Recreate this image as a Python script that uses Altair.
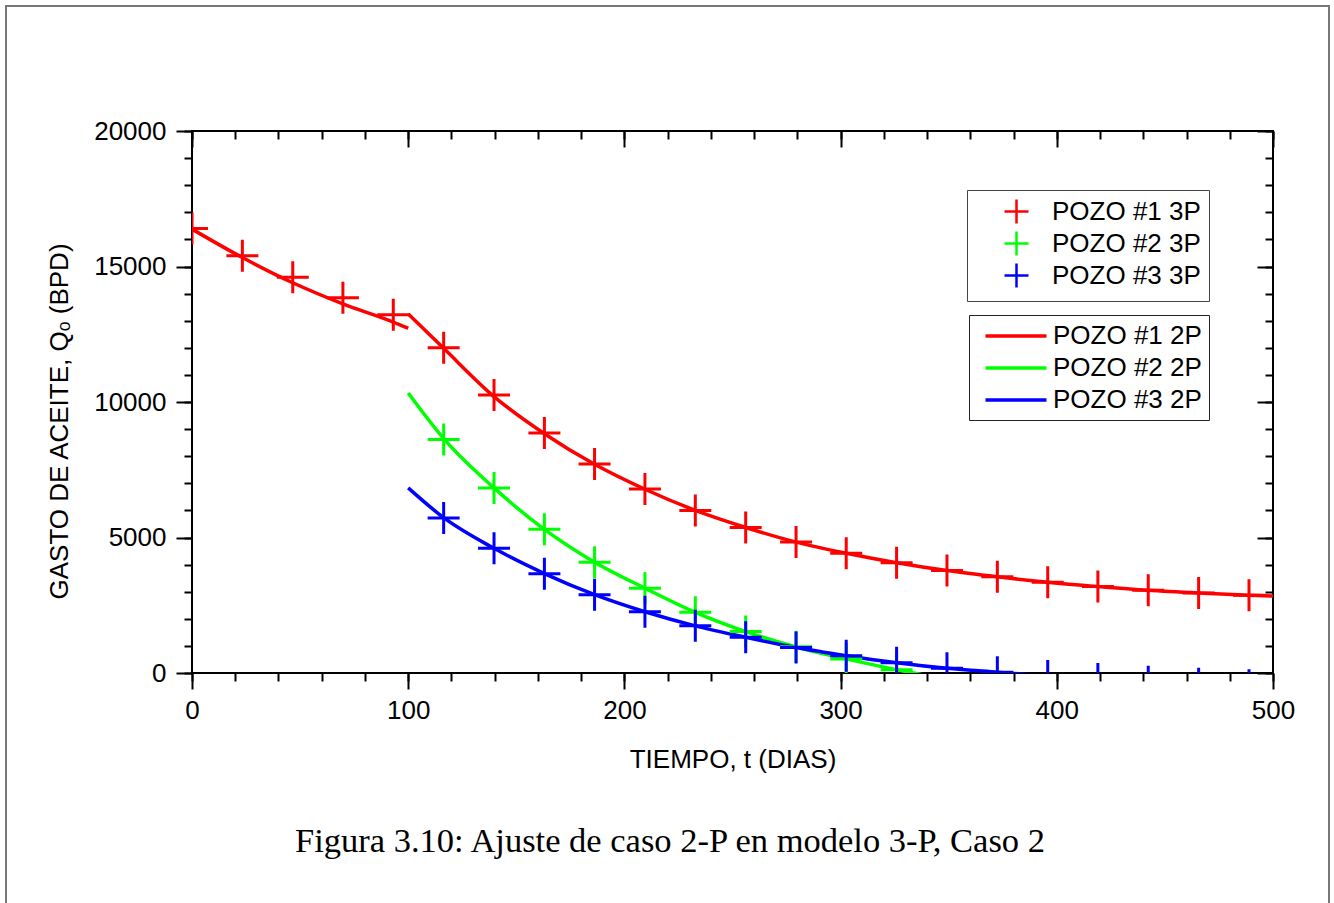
import altair as alt
import pandas as pd

# ---------------- data ----------------
t_pts = [0, 23.3, 46.6, 69.8, 93.1, 116.4, 139.7, 163.0, 186.2, 209.5, 232.8,
         256.1, 279.4, 302.6, 325.9, 349.2, 372.5, 395.8, 419.0, 442.3, 465.6, 488.9]

# 3P model (crosses)
q1_3p = [16400, 15400, 14600, 13850, 13220, 12000, 10260, 8860, 7710, 6790, 6000,
         5370, 4830, 4420, 4070, 3780, 3550, 3350, 3190, 3050, 2950, 2870]
t2_3p = t_pts[5:15]
q2_3p = [8620, 6830, 5300, 4090, 3130, 2240, 1530, 970, 520, 120]
t3_3p = t_pts[5:]
q3_3p = [5720, 4600, 3660, 2890, 2260, 1740, 1320, 940, 640, 380, 175, 30,
         -110, -220, -320, -395, -455]

# 2P model (lines)
t1a = [0, 23.3, 46.6, 69.8, 93.1, 100]
q1a = [16380, 15330, 14400, 13620, 12950, 12720]
t1b = [100] + t_pts[5:] + [500]
q1b = [13250, 11980, 10200, 8830, 7700, 6780, 6000, 5370, 4830, 4420, 4070,
       3780, 3550, 3350, 3190, 3050, 2950, 2870, 2840]
t2 = [100] + t_pts[5:16]
q2 = [10330, 8650, 6830, 5300, 4090, 3130, 2240, 1530, 960, 520, 120, -230]
t3 = [100] + t_pts[5:]
q3 = [6830, 5730, 4600, 3670, 2890, 2260, 1740, 1320, 940, 640, 380, 175, 30,
      -110, -220, -320, -395, -455]

names3p = ["POZO #1 3P", "POZO #2 3P", "POZO #3 3P"]
names2p = ["POZO #1 2P", "POZO #2 2P", "POZO #3 2P"]
colors = ["#ff0000", "#00ff00", "#0000ff"]

x_major = list(range(0, 501, 100))
x_minor = list(range(0, 501, 20))
y_major = list(range(0, 20001, 5000))
y_minor = list(range(0, 20001, 1000))

caption = ["Figura 3.10: Ajuste de caso 2-P en modelo 3-P, Caso 2"]

# ---------------- tables ----------------
pts_rows = []
for name, ts, qs in zip(names3p, [t_pts, t2_3p, t3_3p], [q1_3p, q2_3p, q3_3p]):
    for t, q in zip(ts, qs):
        pts_rows.append({"t": t, "q": q, "serie": name})
df_pts = pd.DataFrame(pts_rows)

line_rows = []
for name, seg, ts, qs in [(names2p[0], "a", t1a, q1a), (names2p[0], "b", t1b, q1b),
                          (names2p[1], "c", t2, q2), (names2p[2], "d", t3, q3)]:
    for t, q in zip(ts, qs):
        line_rows.append({"t": t, "q": q, "serie": name, "seg": seg})
df_lines = pd.DataFrame(line_rows)

# ---------------- chart ----------------
W, H = 1081, 542
FONT = "Liberation Sans"
xs = alt.Scale(domain=[0, 500], nice=False, zero=False)
ys = alt.Scale(domain=[0, 20000], nice=False)

common = dict(domain=False, grid=False, tickColor="black", tickWidth=2, labelFlush=False,
              labelFont=FONT, labelFontSize=26, labelColor="black", format="d")

CROSS = "M-1,0H1M0,-1V1"
HLINE = "M-2.5,0H2.5"

lines = alt.Chart(df_lines).mark_line(strokeWidth=3.5, interpolate="monotone", clip=True).encode(
    x=alt.X("t:Q", scale=xs, axis=alt.Axis(
        orient="bottom", values=x_major, tickSize=16, labelPadding=8,
        title="TIEMPO, t (DIAS)", titleFont=FONT, titleFontSize=26, titleFontWeight="normal",
        titleColor="black", titlePadding=23, **common)),
    y=alt.Y("q:Q", scale=ys, axis=alt.Axis(
        orient="left", values=y_major, tickSize=16, labelPadding=10,
        title="GASTO DE ACEITE, Qₒ (BPD)", titleFont=FONT, titleFontSize=26,
        titleFontWeight="normal", titleColor="black", titleAngle=270,
        titleAlign="center", titleBaseline="alphabetic", titleX=-125, titleY=290,
        **common)),
    stroke=alt.Stroke("serie:N", scale=alt.Scale(domain=names2p, range=colors),
                      legend=alt.Legend(
                          orient="none", legendX=777, legendY=184, title=None,
                          symbolType=HLINE, symbolSize=595, symbolStrokeWidth=3.5,
                          symbolOffset=26, labelOffset=23, labelFont=FONT, labelFontSize=26,
                          labelColor="black", labelLimit=400, rowPadding=5, padding=7,
                          strokeColor="#222")),
    detail="seg:N",
)

points = alt.Chart(df_pts).mark_point(shape=CROSS, size=1024, filled=False, strokeWidth=3,
                                      opacity=1, clip=True).encode(
    x=alt.X("t:Q", scale=xs, axis=alt.Axis(orient="bottom", values=x_minor, tickSize=8,
                                           labels=False, title=None, **common)),
    y=alt.Y("q:Q", scale=ys, axis=alt.Axis(orient="left", values=y_minor, tickSize=8,
                                           labels=False, title=None, **common)),
    color=alt.Color("serie:N", scale=alt.Scale(domain=names3p, range=colors),
                    legend=alt.Legend(
                        orient="none", legendX=775, legendY=59, title=None,
                        symbolType=CROSS, symbolSize=576, symbolStrokeWidth=2.5,
                        symbolOffset=28, labelOffset=22, labelFont=FONT, labelFontSize=26,
                        labelColor="black", labelLimit=400, rowPadding=-3, padding=8,
                        strokeColor="#444")),
)

top_right_major = alt.Chart(df_pts).mark_point(opacity=0).encode(
    x=alt.X("t:Q", scale=xs, axis=alt.Axis(orient="top", values=x_major, tickSize=16, offset=-16,
                                           labels=False, title=None, **common)),
    y=alt.Y("q:Q", scale=ys, axis=alt.Axis(orient="right", values=y_major, tickSize=16, offset=-16,
                                           labels=False, title=None, **common)),
)
top_right_minor = alt.Chart(df_pts).mark_point(opacity=0).encode(
    x=alt.X("t:Q", scale=xs, axis=alt.Axis(orient="top", values=x_minor, tickSize=8, offset=-8,
                                           labels=False, title=None, **common)),
    y=alt.Y("q:Q", scale=ys, axis=alt.Axis(orient="right", values=y_minor, tickSize=8, offset=-8,
                                           labels=False, title=None, **common)),
)

frame = alt.Chart(pd.DataFrame({"k": [0]})).mark_rect(
    fillOpacity=0, stroke="#777777", strokeWidth=2).encode(
    x=alt.value(-186), x2=alt.value(1137), y=alt.value(-125), y2=alt.value(900))

cap = alt.Chart(pd.DataFrame({"txt": caption})).mark_text(
    font="Liberation Serif", fontSize=34.5, color="black", align="center", baseline="middle"
).encode(text="txt:N", x=alt.value(478), y=alt.value(711))

chart = alt.layer(lines, points, top_right_major, top_right_minor, frame, cap).resolve_axis(
    x="independent", y="independent"
).resolve_scale(color="independent", stroke="independent").properties(
    width=W, height=H,
    autosize=alt.AutoSizeParams(type="none"),
    padding={"left": 192, "top": 131, "right": 61, "bottom": 230},
    background="white",
).configure_view(stroke="black", strokeWidth=2)

chart.save("out.html", embed_options={"renderer": "svg", "actions": False})
